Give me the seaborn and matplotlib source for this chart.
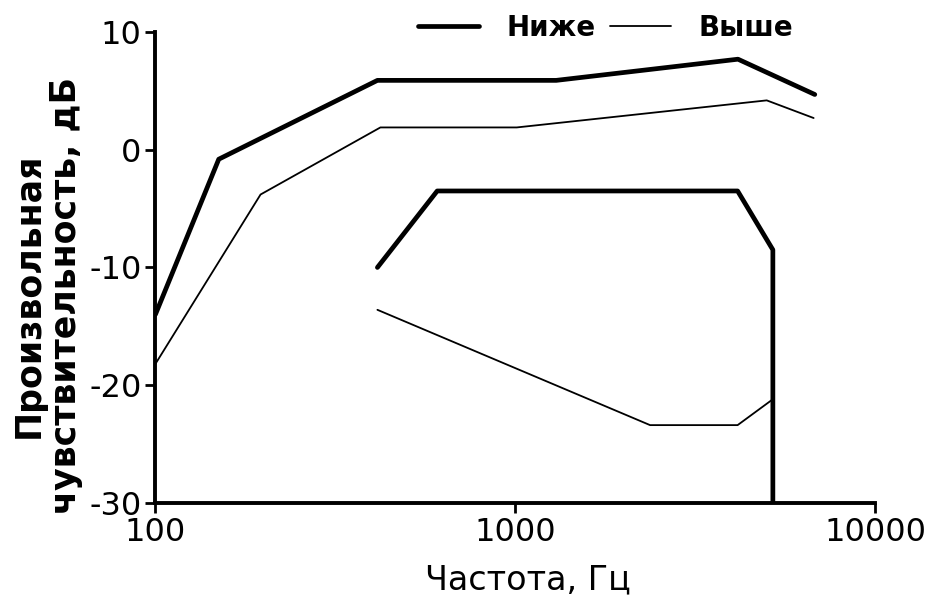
import seaborn as sns
import matplotlib.pyplot as plt
import pandas as pd

# thick line ("Ниже"), upper and lower branches
low_up_f = [100, 150, 414, 1300, 4160, 6800]
low_up_db = [-14, -0.8, 5.9, 5.9, 7.7, 4.7]
low_dn_f = [414, 607, 4150, 5200, 5200]
low_dn_db = [-10, -3.5, -3.5, -8.5, -30]

# thin line ("Выше"), upper and lower branches
high_up_f = [100, 196, 422, 1010, 5000, 6750]
high_up_db = [-18.2, -3.8, 1.9, 1.9, 4.2, 2.7]
high_dn_f = [414, 2370, 4150, 5200]
high_dn_db = [-13.6, -23.4, -23.4, -21.2]

sns.set_style('ticks')
plt.rcParams['font.family'] = ['DejaVu Sans']
plt.rcParams['axes.unicode_minus'] = False

fig, ax = plt.subplots(figsize=(9.25, 5.95), dpi=100)
fig.subplots_adjust(left=0.168, right=0.946, top=0.946, bottom=0.155)

kw = dict(sort=False, estimator=None, color='black', ax=ax)
sns.lineplot(x=low_up_f, y=low_up_db, linewidth=3.4, label='Ниже', **kw)
sns.lineplot(x=low_dn_f, y=low_dn_db, linewidth=3.4, **kw)
sns.lineplot(x=high_up_f, y=high_up_db, linewidth=1.3, label='Выше', **kw)
sns.lineplot(x=high_dn_f, y=high_dn_db, linewidth=1.3, **kw)

ax.set_xscale('log')
ax.set_xlim(100, 10000)
ax.set_ylim(-30, 10)
ax.set_xticks([100, 1000, 10000])
ax.set_xticklabels(['100', '1000', '10000'])
ax.minorticks_off()
ax.set_yticks([-30, -20, -10, 0, 10])

sns.despine(ax=ax)
for s in ['left', 'bottom']:
    ax.spines[s].set_linewidth(2.8)
    ax.spines[s].set_color('black')
ax.tick_params(axis='both', labelsize=23, width=2, length=7, pad=3,
               color='black', labelcolor='black')

ax.set_xlabel('Частота, Гц', fontsize=24, color='black')
ax.xaxis.set_label_coords(0.518, -0.128)
ax.set_ylabel('Произвольная\nчувствительность, дБ', fontsize=25, fontweight='bold',
              color='black', linespacing=1.1)
ax.yaxis.set_label_coords(-0.101, 0.44)

leg = ax.legend(loc='center left', bbox_to_anchor=(418 / 925, 1 - 28 / 595),
                bbox_transform=fig.transFigure, ncol=2, frameon=False,
                borderaxespad=0, borderpad=0, handlelength=2.2,
                columnspacing=0.5, handletextpad=1.0,
                prop={'size': 20, 'weight': 'bold'})
for t in leg.get_texts():
    t.set_color('black')

fig.savefig('out.png', dpi=100)
